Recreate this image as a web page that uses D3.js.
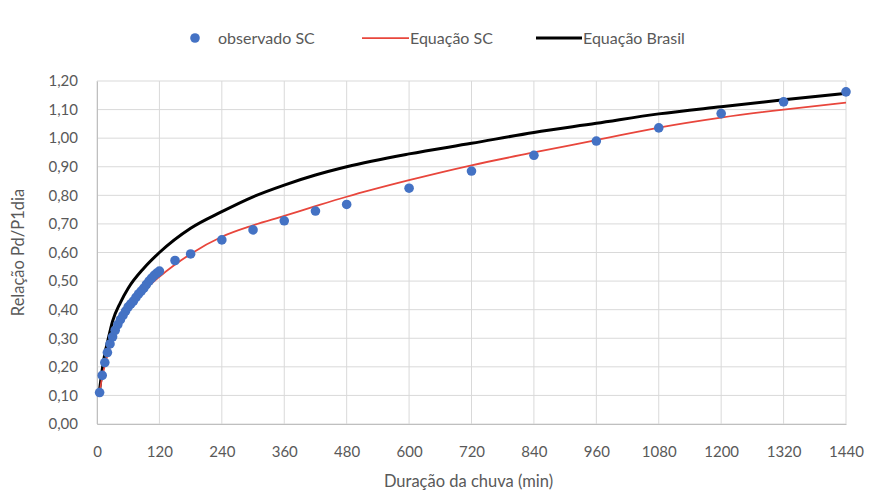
<!DOCTYPE html>
<html>
<head>
<meta charset="utf-8">
<script src="https://cdn.jsdelivr.net/npm/d3@7"></script>
<style>
  html, body { margin: 0; padding: 0; background: #ffffff; }
  svg { display: block; }
  text { font-family: Lato, "Open Sans", "Noto Sans", sans-serif; fill: #595959; }
</style>
</head>
<body>
<svg id="chart" width="870" height="494"></svg>
<script>
// Observed ratios Pd/P1dia for Santa Catarina (duration in minutes)
const obsDuration = [5, 10, 15, 20, 25, 30, 35, 40, 45, 50, 55, 60, 65, 70, 75, 80, 85, 90, 95, 100, 105, 110, 115, 120,
                     150, 180, 240, 300, 360, 420, 480, 600, 720, 840, 960, 1080, 1200, 1320, 1440];
const obsRatio = [0.11, 0.17, 0.215, 0.25, 0.28, 0.305, 0.328, 0.348, 0.365, 0.38, 0.395, 0.41, 0.42, 0.43, 0.443, 0.455,
                  0.465, 0.475, 0.488, 0.50, 0.51, 0.52, 0.528, 0.535,
                  0.572, 0.595, 0.644, 0.679, 0.711, 0.745, 0.768, 0.825, 0.885, 0.94, 0.99, 1.036, 1.086, 1.127, 1.162];

// Fitted equation for SC, evaluated at these durations
const eqDuration = [5, 10, 15, 20, 30, 45, 60, 90, 120, 180, 240, 300, 360, 420, 480, 600, 720, 840, 960, 1080, 1200, 1320, 1440];
const eqSC = [0.11, 0.165, 0.205, 0.24, 0.295, 0.355, 0.40, 0.465, 0.515, 0.595, 0.655, 0.695, 0.728, 0.762, 0.795,
              0.853, 0.905, 0.95, 0.993, 1.037, 1.072, 1.10, 1.124];
// National (Brasil) equation at the same durations
const eqBrasil = [0.12, 0.19, 0.245, 0.285, 0.36, 0.425, 0.475, 0.545, 0.60, 0.685, 0.743, 0.795, 0.836, 0.871, 0.90,
                  0.945, 0.982, 1.02, 1.052, 1.085, 1.11, 1.134, 1.157];

const xTicks = [0, 120, 240, 360, 480, 600, 720, 840, 960, 1080, 1200, 1320, 1440];
const yTicks = [0, 0.1, 0.2, 0.3, 0.4, 0.5, 0.6, 0.7, 0.8, 0.9, 1.0, 1.1, 1.2];

const seriesNames = ["observado SC", "Equação SC", "Equação Brasil"];

const svg = d3.select("#chart");
const margin = { top: 81, right: 24, bottom: 70, left: 97 };
const W = 870, H = 494;

const x = d3.scaleLinear().domain([0, 1440]).range([margin.left, W - margin.right]);
const y = d3.scaleLinear().domain([0, 1.2]).range([H - margin.bottom, margin.top]);

const ptBR = d3.formatLocale({ decimal: ",", thousands: ".", grouping: [3], currency: ["R$", ""] });
const fmtY = ptBR.format(".2f");

// gridlines
const grid = svg.append("g").attr("class", "grid");
grid.selectAll("line.h").data(yTicks).join("line")
  .attr("x1", x(0)).attr("x2", x(1440))
  .attr("y1", d => y(d)).attr("y2", d => y(d))
  .attr("stroke", "#d9d9d9").attr("stroke-width", 1);
grid.selectAll("line.v").data(xTicks).join("line")
  .attr("x1", d => x(d)).attr("x2", d => x(d))
  .attr("y1", y(0)).attr("y2", y(1.2))
  .attr("stroke", "#d9d9d9").attr("stroke-width", 1);

// axes
const xAxis = d3.axisBottom(x).tickValues(xTicks).tickSize(0).tickPadding(22).tickFormat(d3.format("d"));
const yAxis = d3.axisLeft(y).tickValues(yTicks).tickSize(0).tickPadding(19).tickFormat(fmtY);

const gx = svg.append("g").attr("transform", `translate(0,${y(0)})`).call(xAxis);
const gy = svg.append("g").attr("transform", `translate(${x(0)},0)`).call(yAxis);
[gx, gy].forEach(g => {
  g.select(".domain").attr("stroke", "#bfbfbf");
  g.selectAll("text").attr("font-size", 15).attr("fill", "#606060")
    .style("font-family", "Lato, 'Open Sans', sans-serif");
});

// axis titles
svg.append("text")
  .attr("x", (x(0) + x(1440)) / 2 - 3).attr("y", 487)
  .attr("text-anchor", "middle").attr("font-size", 16.5)
  .text("Duração da chuva (min)");
svg.append("text")
  .attr("transform", `translate(24,${(y(0) + y(1.2)) / 2}) rotate(-90)`)
  .attr("text-anchor", "middle").attr("font-size", 16.5)
  .text("Relação Pd/P1dia");

// curves
const line = d3.line().x(d => x(d[0])).y(d => y(d[1])).curve(d3.curveMonotoneX);
const brasilPts = eqDuration.map((t, i) => [t, eqBrasil[i]]);
const scPts = eqDuration.map((t, i) => [t, eqSC[i]]);

svg.append("path").datum(brasilPts).attr("d", line)
  .attr("fill", "none").attr("stroke", "#000000").attr("stroke-width", 3).attr("stroke-linejoin", "round");
svg.append("path").datum(scPts).attr("d", line)
  .attr("fill", "none").attr("stroke", "#e8463c").attr("stroke-width", 1.75).attr("stroke-linejoin", "round");

// observed points
svg.append("g").selectAll("circle")
  .data(obsDuration.map((t, i) => [t, obsRatio[i]]))
  .join("circle")
  .attr("cx", d => x(d[0])).attr("cy", d => y(d[1])).attr("r", 4.8)
  .attr("fill", "#4472c4");

// legend
const lg = svg.append("g").attr("class", "legend");
const ly = 38;
lg.append("circle").attr("cx", 195).attr("cy", ly).attr("r", 4.8).attr("fill", "#4472c4");
lg.append("text").attr("x", 218).attr("y", ly).attr("dy", "0.35em").attr("font-size", 16).text(seriesNames[0]);
lg.append("line").attr("x1", 362).attr("x2", 409).attr("y1", ly).attr("y2", ly)
  .attr("stroke", "#e8463c").attr("stroke-width", 1.75);
lg.append("text").attr("x", 410).attr("y", ly).attr("dy", "0.35em").attr("font-size", 16).text(seriesNames[1]);
lg.append("line").attr("x1", 536).attr("x2", 582).attr("y1", ly).attr("y2", ly)
  .attr("stroke", "#000000").attr("stroke-width", 3);
lg.append("text").attr("x", 583).attr("y", ly).attr("dy", "0.35em").attr("font-size", 16).text(seriesNames[2]);
</script>
</body>
</html>
